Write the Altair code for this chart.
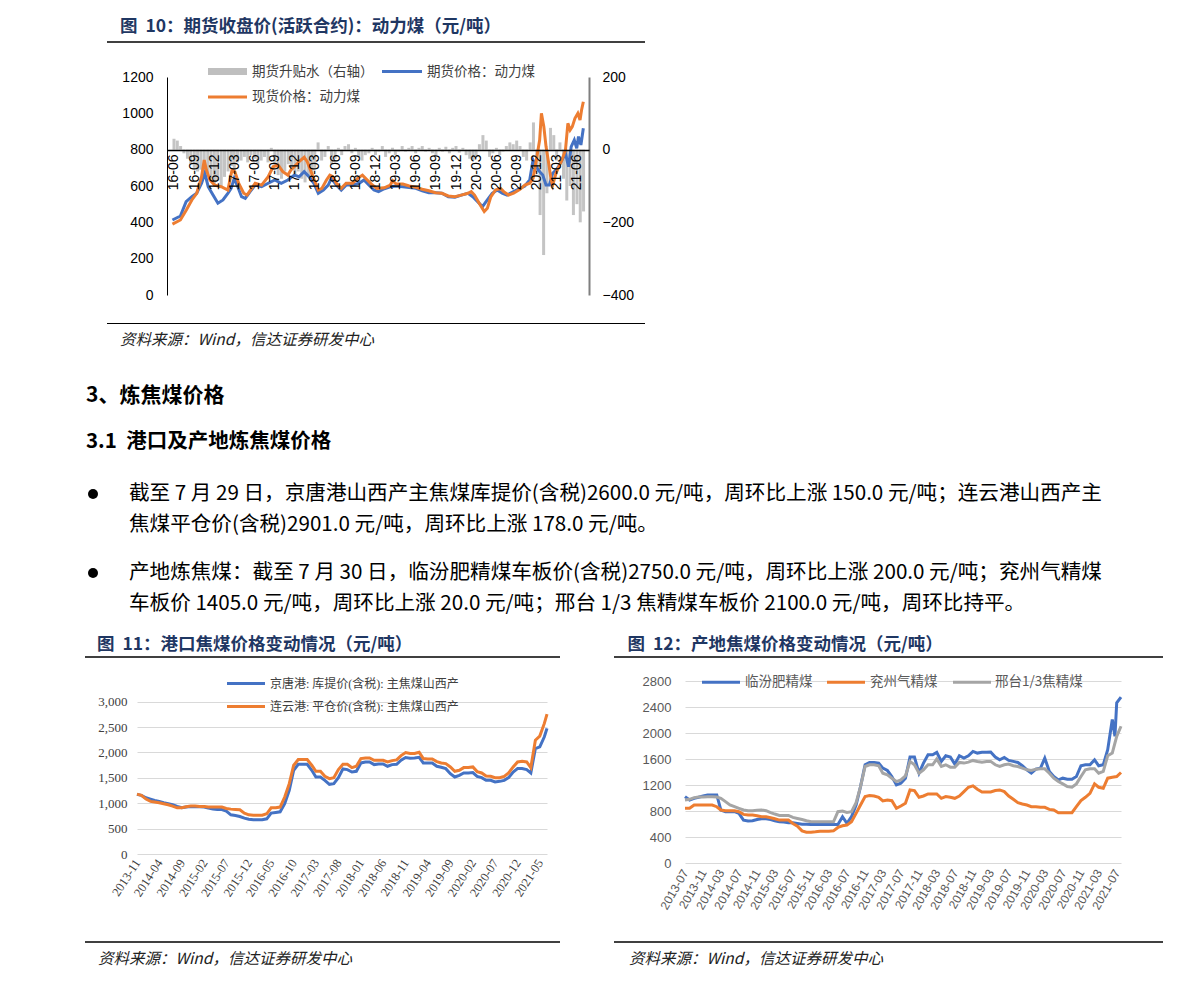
import altair as alt
import pandas as pd

# ---------------- Figure 10: thermal coal futures / spot / basis ----------------
fut_dates = ["2016-05-25", "2016-06-30", "2016-07-26", "2016-08-21", "2016-09-12", "2016-10-04", "2016-10-19",
             "2016-11-03", "2016-11-25", "2016-12-17", "2017-01-09", "2017-01-31", "2017-02-15", "2017-03-01",
             "2017-03-14", "2017-04-03", "2017-04-20", "2017-05-12", "2017-06-04", "2017-07-03", "2017-08-02",
             "2017-09-01", "2017-09-30", "2017-10-30", "2017-11-28", "2017-12-20", "2018-01-12", "2018-02-03",
             "2018-02-25", "2018-03-17", "2018-04-09", "2018-05-01", "2018-05-15", "2018-06-07", "2018-06-29",
             "2018-07-21", "2018-08-19", "2018-09-18", "2018-10-10", "2018-11-02", "2018-11-24", "2018-12-15",
             "2019-01-10", "2019-02-06", "2019-03-05", "2019-04-04", "2019-05-03", "2019-06-02", "2019-07-01",
             "2019-07-31", "2019-08-30", "2019-09-28", "2019-10-27", "2019-11-26", "2019-12-25", "2020-01-24",
             "2020-02-15", "2020-03-08", "2020-03-30", "2020-04-21", "2020-05-13", "2020-06-05", "2020-06-27",
             "2020-07-19", "2020-08-18", "2020-09-16", "2020-10-08", "2020-10-30", "2020-11-14", "2020-11-29",
             "2020-12-14", "2020-12-28", "2021-01-12", "2021-01-27", "2021-02-11", "2021-02-26", "2021-03-11",
             "2021-03-25", "2021-04-10", "2021-04-24", "2021-05-06", "2021-05-20", "2021-05-31", "2021-06-08",
             "2021-06-19", "2021-06-30"]
fut_vals = [413, 435, 514, 541, 560, 615, 670, 596, 550, 505, 523, 560, 587, 642, 605, 541, 532, 569, 605, 596,
            615, 633, 615, 633, 660, 651, 679, 651, 615, 560, 578, 605, 642, 605, 578, 605, 605, 615, 633, 605,
            578, 569, 585, 596, 600, 596, 591, 587, 574, 563, 563, 560, 541, 538, 550, 560, 541, 514, 486, 523,
            560, 578, 560, 550, 569, 587, 600, 633, 743, 706, 679, 660, 605, 605, 670, 688, 710, 743, 780, 706,
            817, 853, 807, 872, 826, 918]

spot_dates = ["2016-05-25", "2016-06-30", "2016-07-27", "2016-08-21", "2016-09-12", "2016-10-04", "2016-10-16",
              "2016-10-26", "2016-11-11", "2016-12-02", "2017-01-01", "2017-01-31", "2017-02-19", "2017-03-04",
              "2017-03-21", "2017-04-13", "2017-04-28", "2017-05-19", "2017-06-04", "2017-07-03", "2017-08-02",
              "2017-08-24", "2017-09-16", "2017-10-07", "2017-10-30", "2017-11-13", "2017-11-28", "2017-12-20",
              "2018-01-12", "2018-01-26", "2018-02-18", "2018-03-17", "2018-04-02", "2018-04-23", "2018-05-08",
              "2018-05-22", "2018-06-07", "2018-06-29", "2018-07-21", "2018-08-19", "2018-09-11", "2018-10-03",
              "2018-10-25", "2018-11-17", "2018-12-08", "2019-01-10", "2019-02-06", "2019-02-17", "2019-03-05",
              "2019-04-04", "2019-05-03", "2019-06-02", "2019-07-01", "2019-07-31", "2019-08-30", "2019-09-28",
              "2019-10-27", "2019-11-26", "2019-12-25", "2020-01-24", "2020-02-08", "2020-02-23", "2020-03-15",
              "2020-04-07", "2020-04-21", "2020-05-06", "2020-05-28", "2020-06-20", "2020-07-04", "2020-07-26",
              "2020-08-18", "2020-09-16", "2020-10-08", "2020-10-30", "2020-11-14", "2020-11-29", "2020-12-14",
              "2020-12-22", "2021-01-02", "2021-01-12", "2021-01-24", "2021-02-04", "2021-02-11", "2021-02-26",
              "2021-03-11", "2021-03-25", "2021-04-10", "2021-04-21", "2021-05-01", "2021-05-11", "2021-05-23",
              "2021-06-05", "2021-06-15", "2021-06-22", "2021-06-30"]
spot_vals = [390, 413, 468, 523, 560, 651, 743, 688, 633, 605, 596, 578, 688, 679, 615, 560, 550, 587, 615, 605,
             651, 706, 715, 679, 660, 688, 706, 734, 758, 734, 660, 578, 587, 633, 660, 651, 615, 587, 615, 615,
             642, 660, 633, 605, 587, 590, 605, 629, 611, 611, 600, 593, 582, 574, 563, 560, 545, 541, 550, 560,
             569, 550, 505, 459, 477, 538, 578, 587, 569, 550, 560, 582, 605, 615, 642, 743, 853, 1000, 927, 817,
             725, 633, 605, 670, 706, 743, 798, 945, 908, 927, 973, 1000, 963, 1018, 1064]

# basis (right axis), twice a month starting 2016-06-01
basis_vals = [30, 25, 10, -10, -25, -40, -50, -60, -55, -70, -65, -80, -95, -85, -100, -75, -60, -45, -55, -35,
              -30, -20, -35, -15, -25, -40, -30, -20, -35, 5, -45, -70, -80, -60, -40, -55, -75, -60, -80, -90,
              -70, -85, -50, 20, -30, -20, 10, -40, -25, 5, -15, 10, 15, -10, 5, -20, -30, -15, -10, 5,
              -15, -5, 10, -20, -10, 5, -15, -5, 10, -5, 5, 10, -10, 5, 10, -5, 5, -10, -15, 5,
              -5, 8, -10, 5, 10, -8, 5, -15, -25, -30, -20, 15, 40, 25, -20, -10, 5, -15, -5, 10,
              20, 15, 25, 10, -20, -30, 20, 75, -60, -180, -290, -120, 60, 40, -30, 20, -80, -140, -100, -180,
              -150, -200, -170]
basis_dates = ["%d-%02d-%s" % (2016 + (5 + i // 2) // 12, (5 + i // 2) % 12 + 1, "01" if i % 2 == 0 else "16")
               for i in range(len(basis_vals))]

# ---------------- Figure 11: port coking coal (monthly from 2013-11) ----------------
jt_vals = [1175, 1155, 1108, 1082, 1056, 1036, 1010, 990, 970, 937, 910, 924, 937, 930, 930, 924, 904, 884, 877, 877,
           845, 772, 759, 739, 706, 686, 673, 673, 673, 693, 805, 818, 831, 990, 1253, 1650, 1768, 1768, 1768, 1650,
           1517, 1517, 1451, 1372, 1385, 1504, 1676, 1662, 1616, 1629, 1794, 1814, 1814, 1761, 1774, 1774, 1728,
           1761, 1768, 1847, 1900, 1887, 1893, 1906, 1794, 1794, 1794, 1728, 1708, 1682, 1583, 1517, 1550, 1596,
           1596, 1603, 1530, 1504, 1451, 1451, 1418, 1431, 1451, 1504, 1616, 1682, 1682, 1662, 1596, 2078, 2111,
           2309, 2474]
ly_vals = [1180, 1155, 1082, 1036, 1023, 1010, 990, 970, 944, 910, 910, 930, 944, 944, 937, 937, 924, 924, 924, 924,
           897, 884, 877, 871, 805, 772, 765, 765, 765, 792, 910, 910, 924, 1122, 1385, 1748, 1860, 1860, 1860, 1748,
           1629, 1629, 1530, 1484, 1504, 1662, 1768, 1768, 1702, 1728, 1880, 1893, 1893, 1847, 1847, 1847, 1814,
           1840, 1854, 1939, 1999, 1979, 1979, 2005, 1880, 1873, 1873, 1821, 1794, 1781, 1715, 1629, 1650, 1702,
           1702, 1715, 1623, 1596, 1537, 1530, 1504, 1504, 1530, 1596, 1715, 1814, 1827, 1814, 1702, 2243, 2322,
           2573, 2757]
dates11 = ["%d-%02d-01" % (2013 + (10 + i) // 12, (10 + i) % 12 + 1) for i in range(len(jt_vals) - 1)] + ["2021-06-19"]

# ---------------- Figure 12: origin coking coal (monthly from 2013-07) ----------------
lf_vals = [1021, 970, 995, 1011, 1031, 1047, 1047, 1047, 815, 789, 789, 789, 763, 660, 645, 650, 670, 681, 681, 670,
           650, 634, 629, 619, 619, 609, 598, 598, 593, 593, 593, 593, 593, 593, 593, 712, 609, 712, 892, 1176,
           1511, 1547, 1547, 1537, 1459, 1423, 1330, 1202, 1227, 1305, 1630, 1630, 1382, 1537, 1666, 1666, 1702,
           1563, 1650, 1630, 1521, 1650, 1614, 1650, 1717, 1691, 1702, 1702, 1707, 1630, 1588, 1624, 1578, 1563,
           1547, 1496, 1434, 1382, 1444, 1459, 1614, 1408, 1330, 1279, 1305, 1289, 1289, 1330, 1496, 1511, 1511,
           1588, 1496, 1511, 1743, 2207, 2465, 2553]
yz_vals = [841, 841, 892, 892, 892, 892, 892, 866, 815, 804, 804, 804, 789, 748, 737, 737, 727, 712, 712, 696,
           681, 660, 660, 660, 609, 567, 495, 474, 474, 480, 490, 490, 490, 495, 547, 572, 583, 634, 763, 892,
           1021, 1037, 1031, 1011, 954, 970, 959, 841, 877, 918, 1124, 1114, 1011, 1031, 1062, 1062, 1062, 995,
           1021, 1011, 995, 1031, 1098, 1165, 1186, 1134, 1093, 1093, 1093, 1114, 1124, 1098, 1031, 980, 928, 908,
           892, 866, 866, 856, 856, 825, 815, 774, 774, 774, 774, 866, 959, 1011, 1072, 1217, 1165, 1150, 1305,
           1320, 1330, 1392]
xt_vals = [970, 980, 1006, 1016, 1016, 1021, 1021, 1016, 995, 944, 892, 866, 841, 815, 804, 804, 810, 815, 804, 774,
           753, 732, 732, 732, 701, 686, 670, 650, 634, 634, 634, 634, 634, 634, 789, 799, 779, 789, 928, 1176,
           1485, 1511, 1511, 1496, 1382, 1356, 1305, 1253, 1279, 1341, 1563, 1511, 1382, 1434, 1511, 1511, 1599,
           1485, 1511, 1475, 1475, 1547, 1537, 1552, 1578, 1563, 1552, 1563, 1563, 1511, 1485, 1511, 1521, 1496,
           1485, 1459, 1434, 1423, 1444, 1449, 1449, 1382, 1305, 1253, 1217, 1176, 1165, 1217, 1330, 1434, 1449,
           1449, 1382, 1408, 1650, 1691, 1949, 2104]
dates12 = ["%d-%02d-01" % (2013 + (6 + i) // 12, (6 + i) % 12 + 1) for i in range(len(lf_vals) - 1)] + ["2021-07-30"]
lf_extra_dates = ["2021-06-19"]
lf_extra_vals = [1949]

# ---------------- texts ----------------
title10 = "图\u00a0\u00a010：期货收盘价(活跃合约)：动力煤（元/吨）"
title11 = "图\u00a0\u00a011：港口焦煤价格变动情况（元/吨）"
title12 = "图\u00a0\u00a012：产地焦煤价格变动情况（元/吨）"
source = "资料来源：Wind，信达证券研发中心"
legend10 = ["期货升贴水（右轴）", "期货价格：动力煤", "现货价格：动力煤"]
legend11 = ["京唐港: 库提价(含税): 主焦煤山西产", "连云港: 平仓价(含税): 主焦煤山西产"]
legend12 = ["临汾肥精煤", "兖州气精煤", "邢台1/3焦精煤"]
heading1 = "3、炼焦煤价格"
heading2 = "3.1\u00a0\u00a0港口及产地炼焦煤价格"
para = ["截至 7 月 29 日，京唐港山西产主焦煤库提价(含税)2600.0 元/吨，周环比上涨 150.0 元/吨；连云港山西产主",
        "焦煤平仓价(含税)2901.0 元/吨，周环比上涨 178.0 元/吨。",
        "产地炼焦煤：截至 7 月 30 日，临汾肥精煤车板价(含税)2750.0 元/吨，周环比上涨 200.0 元/吨；兖州气精煤",
        "车板价 1405.0 元/吨，周环比上涨 20.0 元/吨；邢台 1/3 焦精煤车板价 2100.0 元/吨，周环比持平。"]

BLUE, ORANGE, GREY, LGREY = "#4472C4", "#ED7D31", "#A5A5A5", "#C4C4C4"
NAVY = "#1F3763"
CJK = "Noto Sans CJK SC"
ONE = pd.DataFrame({"k": [0]})


def DT(y, m, d=1):
    return alt.DateTime(year=y, month=m, date=d)


def month_ticks(y0, m0, n, step):
    out = []
    for k in range(0, n + 1, step):
        t = (m0 - 1) + k
        out.append(DT(y0 + t // 12, t % 12 + 1, 1))
    return out


def text(t, x, y, size, color="#000000", weight="normal", style="normal", font=CJK):
    return alt.Chart(ONE).mark_text(align="left", baseline="middle", fontSize=size, color=color,
                                    fontWeight=weight, fontStyle=style, font=font).encode(
        x=alt.value(x), y=alt.value(y), text=alt.value(t))


def hline(x1, x2, y, color="#000000", width=1.0):
    return alt.Chart(ONE).mark_rule(color=color, strokeWidth=width).encode(
        x=alt.value(x1), x2=alt.value(x2), y=alt.value(y))


def box(x1, x2, y1, y2, color):
    return alt.Chart(ONE).mark_rect(color=color).encode(
        x=alt.value(x1), x2=alt.value(x2), y=alt.value(y1), y2=alt.value(y2))


def dot(x, y, size):
    return alt.Chart(ONE).mark_point(filled=True, shape="circle", size=size, color="#000000", opacity=1).encode(
        x=alt.value(x), y=alt.value(y))


# ---------------- Figure 10 ----------------
df_fut = pd.DataFrame({"date": pd.to_datetime(fut_dates), "v": fut_vals})
df_spot = pd.DataFrame({"date": pd.to_datetime(spot_dates), "v": spot_vals})
df_basis = pd.DataFrame({"date": pd.to_datetime(basis_dates), "b": basis_vals})

x10 = alt.X("date:T", title=None,
            scale=alt.Scale(domain=[DT(2016, 5, 23), DT(2021, 7, 3)], range=[30, 452]),
            axis=alt.Axis(values=month_ticks(2016, 6, 60, 3), format="%y-%m", labelAngle=-90,
                          labelAlign="right", labelBaseline="middle", offset=-145, domainColor="#000000",
                          domainWidth=1.5, ticks=False, grid=False, labelPadding=4, labelFont="Liberation Sans",
                          labelFontSize=14, labelColor="#000000", labelOverlap=False, labelFlush=False, zindex=1))
y10 = alt.Y("v:Q", title=None, scale=alt.Scale(domain=[0, 1200], nice=False),
            axis=alt.Axis(orient="left", offset=-30, values=list(range(0, 1201, 200)), format="d", ticks=False,
                          grid=False, domainColor="#000000", domainWidth=1, labelPadding=14,
                          labelFont="Liberation Sans", labelFontSize=14, labelColor="#000000"))
yb = alt.Y("b:Q", title=None, scale=alt.Scale(domain=[-400, 200], nice=False),
           axis=alt.Axis(orient="right", values=[-400, -200, 0, 200], format="d", ticks=False, grid=False,
                         domainColor="#7F7F7F", domainWidth=2, labelPadding=13, labelFont="Liberation Sans",
                         labelFontSize=14, labelColor="#000000"))

bars10 = alt.Chart(df_basis).mark_bar(color=LGREY, size=3.0).encode(x=x10, y=yb)
blue10 = alt.Chart(df_fut).mark_line(color=BLUE, strokeWidth=3).encode(x=x10, y=y10)
orange10 = alt.Chart(df_spot).mark_line(color=ORANGE, strokeWidth=3).encode(x=x10, y=y10)

deco10 = [
    box(-129, -128, -69, -68, "#FFFFFF"),
    text(title10, -17, -50.5, 17.5, color=NAVY, weight="bold"),
    hline(-30, 508, -35, width=1.5),
    box(71, 110, -9, -2, "#BFBFBF"),
    text(legend10[0], 115, -5.5, 13.5, color="#404040"),
    hline(245, 285, -5.5, color=BLUE, width=3),
    text(legend10[1], 290, -5.5, 13.5, color="#404040"),
    hline(71, 110, 20, color=ORANGE, width=3),
    text(legend10[2], 115, 20, 13.5, color="#404040"),
    hline(-30, 508, 246.5, width=1),
    text(source, -17, 263, 15.5, color="#222222", style="italic"),
    # text section
    text(heading1, -51, 319, 21, weight="bold"),
    text(heading2, -51, 365, 20.5, weight="bold"),
    dot(-44, 417, 100),
    text(para[0], -8, 417, 20.6),
    text(para[1], -8, 448, 20.6),
    dot(-44, 496, 100),
    text(para[2], -8, 496, 20.6),
    text(para[3], -8, 527, 20.6),
]

fig10 = alt.layer(bars10, alt.layer(blue10, orange10), *deco10).resolve_scale(y="independent").properties(
    width=452, height=218)

# ---------------- Figure 11 ----------------
df11a = pd.DataFrame({"date": pd.to_datetime(dates11), "v": jt_vals})
df11b = pd.DataFrame({"date": pd.to_datetime(dates11), "v": ly_vals})
x11 = alt.X("date:T", title=None, scale=alt.Scale(domain=[DT(2013, 11, 1), DT(2021, 6, 19)]),
            axis=alt.Axis(values=month_ticks(2013, 11, 90, 5), format="%Y-%m", labelAngle=-57, labelAlign="right",
                          labelBaseline="middle", domain=False, ticks=False, grid=False, labelPadding=6,
                          labelFont="Liberation Serif", labelFontSize=12.5, labelColor="#404040",
                          labelOverlap=False, labelFlush=False))
y11 = alt.Y("v:Q", title=None, scale=alt.Scale(domain=[0, 3408], nice=False),
            axis=alt.Axis(values=list(range(0, 3001, 500)), format=",d", domain=False, ticks=False, grid=True,
                          gridColor="#D9D9D9", gridWidth=1, labelPadding=10, labelFont="Liberation Serif",
                          labelFontSize=13, labelColor="#404040"))
l11a = alt.Chart(df11a).mark_line(color=BLUE, strokeWidth=3).encode(x=x11, y=y11)
l11b = alt.Chart(df11b).mark_line(color=ORANGE, strokeWidth=3).encode(x=x11, y=y11)
SERIF_CJK = "Liberation Serif, Noto Sans CJK SC"
deco11 = [
    text(title11, -40, -36, 17.5, color=NAVY, weight="bold"),
    hline(-52, 423, -24, width=1.5),
    hline(90, 128, 2.5, color=BLUE, width=3),
    text(legend11[0], 133, 2.5, 12, color="#404040", font=SERIF_CJK),
    hline(90, 128, 25.5, color=ORANGE, width=3),
    text(legend11[1], 133, 25.5, 12, color="#404040", font=SERIF_CJK),
    hline(-52, 423, 261, width=1.5),
    text(source, -39, 278, 15.5, color="#222222", style="italic"),
]
fig11 = alt.layer(l11a, l11b, *deco11).properties(width=410, height=173)

# ---------------- Figure 12 ----------------
df12a = pd.DataFrame({"date": pd.to_datetime(dates12 + lf_extra_dates), "v": lf_vals + lf_extra_vals}).sort_values("date")
df12b = pd.DataFrame({"date": pd.to_datetime(dates12), "v": yz_vals})
df12c = pd.DataFrame({"date": pd.to_datetime(dates12), "v": xt_vals})
x12 = alt.X("date:T", title=None, scale=alt.Scale(domain=[DT(2013, 7, 1), DT(2021, 7, 30)]),
            axis=alt.Axis(values=month_ticks(2013, 7, 96, 4), format="%Y-%m", labelAngle=-60, labelAlign="right",
                          labelBaseline="middle", domain=False, ticks=False, grid=False, labelPadding=7,
                          labelFont="Liberation Sans", labelFontSize=12, labelColor="#595959",
                          labelOverlap=False, labelFlush=False))
y12 = alt.Y("v:Q", title=None, scale=alt.Scale(domain=[0, 2800], nice=False),
            axis=alt.Axis(values=list(range(0, 2801, 400)), format="d", domain=False, ticks=False, grid=True,
                          gridColor="#D9D9D9", gridWidth=1, labelPadding=14, labelFont="Liberation Sans",
                          labelFontSize=13, labelColor="#595959"))
l12a = alt.Chart(df12a).mark_line(color=BLUE, strokeWidth=3).encode(x=x12, y=y12)
l12b = alt.Chart(df12b).mark_line(color=ORANGE, strokeWidth=3).encode(x=x12, y=y12)
l12c = alt.Chart(df12c).mark_line(color=GREY, strokeWidth=3).encode(x=x12, y=y12)
deco12 = [
    text(title12, -57.5, -36, 17.5, color=NAVY, weight="bold"),
    hline(-71, 478, -24, width=1.5),
    hline(17, 55, 1.3, color=BLUE, width=3),
    text(legend12[0], 60, 1.3, 13.5, color="#595959"),
    hline(142, 180, 1.3, color=ORANGE, width=3),
    text(legend12[1], 185, 1.3, 13.5, color="#595959"),
    hline(268, 306, 1.3, color=GREY, width=3),
    text(legend12[2], 310, 1.3, 13.5, color="#595959"),
    hline(-71, 478, 261, width=1.5),
    text(source, -56, 278, 15.5, color="#222222", style="italic"),
]
fig12 = alt.layer(l12a, l12b, l12c, *deco12).properties(width=436, height=182)

spacer = alt.Chart(ONE).mark_point(opacity=0).encode(x=alt.value(0), y=alt.value(0)).properties(width=1, height=1)

chart = alt.concat(fig10, spacer, fig11, fig12, columns=2, spacing={"row": 386, "column": 96},
                   bounds="flush", align="each").properties(padding=0, background="white").configure_view(stroke=None)

chart.save("out.html", embed_options={"renderer": "svg", "actions": False})
